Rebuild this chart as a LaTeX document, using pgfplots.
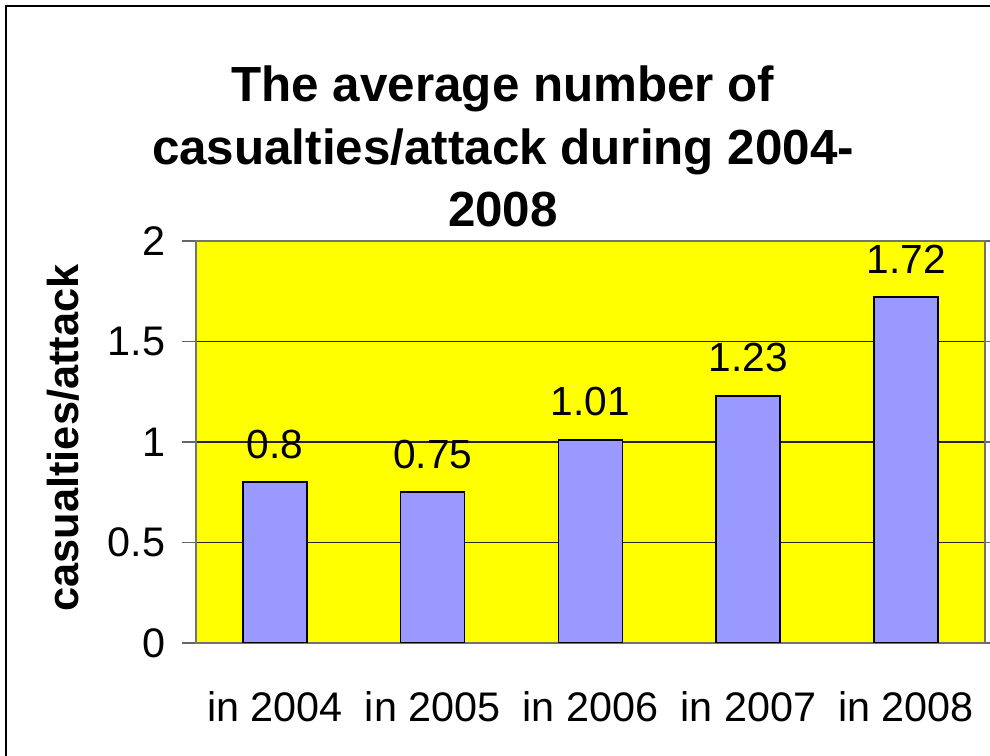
\documentclass[border=0pt]{standalone}
\usepackage{pgfplots}
\pgfplotsset{compat=1.18}
\usepackage{fontspec}
\setmainfont{Liberation Sans}
\definecolor{barblue}{RGB}{153,153,255}
\definecolor{bgyellow}{RGB}{255,255,0}
\begin{document}
\begin{tikzpicture}
\path[use as bounding box] (0pt,0pt) rectangle (742.5pt,567pt);
\draw[line width=1.1pt] (4.5pt,0pt) -- (4.5pt,562.5pt) -- (742.5pt,562.5pt);
% title
\node[anchor=base, font=\fontsize{37}{45}\bfseries\selectfont, inner sep=0pt] at (377.25pt,490.5pt) {The average number of};
\node[anchor=base, font=\fontsize{37}{45}\bfseries\selectfont, inner sep=0pt] at (377.25pt,443.25pt) {casualties/attack during 2004-};
\node[anchor=base, font=\fontsize{37}{45}\bfseries\selectfont, inner sep=0pt] at (377.25pt,396.75pt) {2008};
\begin{axis}[
  at={(147pt,84.75pt)}, anchor=south west,
  scale only axis, width=591.75pt, height=301.5pt,
  xmin=0, xmax=5, ymin=0, ymax=2,
  axis background/.style={fill=bgyellow},
  axis line style={draw=black!55, line width=0.9pt},
  ytick={0,0.5,1,1.5,2},
  yticklabels={0,0.5,1,1.5,2},
  xtick={0.5,1.5,2.5,3.5,4.5},
  xticklabels={in 2004,in 2005,in 2006,in 2007,in 2008},
  minor xtick={0,1,2,3,4,5},
  tick align=outside,
  major tick length=10.5pt,
  minor tick length=10pt,
  xtick style={draw=none},
  ytick style={draw=black!60, line width=0.9pt},
  minor tick style={draw=black!60, line width=0.9pt},
  ymajorgrids,
  grid style={draw=black!85, line width=0.8pt},
  /pgf/number format/assume math mode=true,
  ticklabel style={font=\fontsize{31}{37}\selectfont},
  yticklabel style={anchor=east, xshift=-9pt},
  xticklabel style={anchor=base, yshift=-48.5pt},
  ybar, bar width=48pt,
  point meta=explicit symbolic,
  nodes near coords,
  every node near coord/.append style={anchor=base, yshift=18pt, font=\fontsize{30.5}{36}\selectfont, inner sep=0pt},
]
\addplot[fill=barblue, draw=black, line width=1.2pt] coordinates {
  (0.5,0.80) [0.8]
  (1.5,0.75) [0.75]
  (2.5,1.01) [1.01]
  (3.5,1.23) [1.23]
  (4.5,1.72) [1.72]
};
\end{axis}
\node[rotate=90, font=\fontsize{32.5}{38}\bfseries\selectfont, inner sep=0pt] at (47.5pt,238.5pt) {casualties/attack};
\end{tikzpicture}
\end{document}
